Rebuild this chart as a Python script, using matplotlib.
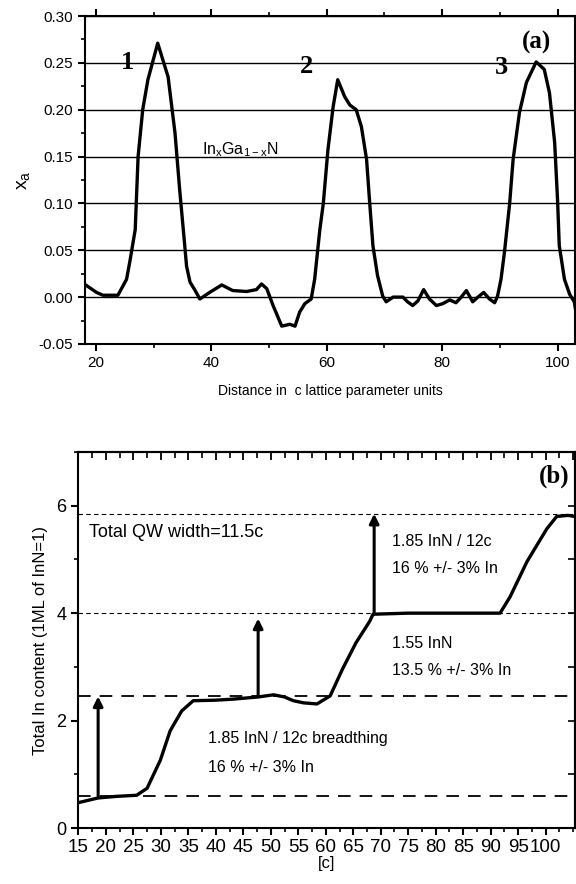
import numpy as np
import matplotlib
matplotlib.use("Agg")
import matplotlib.pyplot as plt
from matplotlib.ticker import MultipleLocator, FixedLocator, NullFormatter

plt.rcParams['font.family'] = ['Liberation Sans', 'DejaVu Sans']
plt.rcParams['mathtext.fontset'] = 'custom'
plt.rcParams['mathtext.rm'] = 'Liberation Sans'

# ---- panel (a): In fraction profile ----
dist_a = [18.2, 20.1, 21.2, 23.8, 25.3, 25.9, 26.8, 27.3, 28.1, 29.0, 30.7, 32.5, 33.7,
          34.5, 35.4, 35.7, 36.3, 37.1, 38.0, 39.7, 41.8, 43.7, 46.1, 47.8, 48.7, 49.6,
          50.7, 52.2, 53.6, 54.5, 55.3, 56.2, 57.3, 57.9, 58.8, 59.4, 60.2, 61.1, 61.9,
          63.1, 64.0, 65.1, 66.0, 66.9, 67.4, 68.0, 68.8, 69.7, 70.3, 71.5, 73.2, 74.0,
          74.9, 75.8, 76.8, 77.8, 79.0, 80.1, 81.3, 82.4, 83.3, 84.2, 85.3, 86.2, 87.2,
          88.2, 89.1, 89.6, 90.2, 90.8, 91.7, 92.3, 93.4, 94.6, 96.3, 97.7, 98.6, 99.5,
          100.0, 100.3, 101.2, 102.1, 102.9, 103.3]
xa = [0.013, 0.005, 0.002, 0.002, 0.019, 0.039, 0.072, 0.15, 0.20, 0.232, 0.271, 0.235, 0.175,
      0.115, 0.054, 0.033, 0.016, 0.008, -0.002, 0.005, 0.013, 0.007, 0.006, 0.008, 0.014, 0.009,
      -0.009, -0.031, -0.029, -0.031, -0.016, -0.007, -0.002, 0.019, 0.072, 0.10, 0.157, 0.203, 0.232,
      0.214, 0.205, 0.20, 0.182, 0.147, 0.104, 0.055, 0.023, 0.001, -0.005, 0.0, 0.0, -0.005,
      -0.009, -0.004, 0.008, -0.002, -0.009, -0.007, -0.003, -0.006, 0.0, 0.007, -0.005, 0.0, 0.005,
      -0.002, -0.006, 0.001, 0.019, 0.048, 0.10, 0.147, 0.197, 0.229, 0.251, 0.243, 0.218, 0.165,
      0.104, 0.055, 0.019, 0.003, -0.005, -0.02]
peak_labels = ['1', '2', '3']
peak_pos = [(25.4, 0.25), (56.5, 0.246), (90.3, 0.245)]

# ---- panel (b): cumulative In content ----
dist_b = [15.3, 18.6, 22.0, 25.6, 27.5, 29.9, 31.7, 33.8, 35.9, 40.0, 43.2, 47.7, 50.5,
          52.5, 54.1, 56.0, 58.4, 60.8, 63.0, 65.5, 68.0, 68.6, 75.0, 85.0, 91.7, 93.5,
          96.6, 100.2, 102.0, 104.0, 105.3]
content = [0.48, 0.56, 0.59, 0.61, 0.74, 1.26, 1.81, 2.18, 2.37, 2.38, 2.40, 2.44, 2.48,
           2.44, 2.37, 2.33, 2.31, 2.46, 2.95, 3.45, 3.85, 3.98, 4.0, 4.0, 4.0, 4.3,
           4.96, 5.57, 5.8, 5.82, 5.8]
fine_levels = [5.85, 4.0]
coarse_levels = [2.45, 0.6]
arrows = [(18.6, 0.6, 2.45), (47.7, 2.45, 3.9), (68.8, 4.0, 5.85)]
xticks_b = list(range(15, 101, 5))

fig = plt.figure(figsize=(5.76, 8.84), dpi=100)

# ===== (a) =====
ax = fig.add_axes([0.1476, 0.6109, 0.8504, 0.371])
ax.plot(dist_a, xa, color='black', lw=2.4, solid_joinstyle='round')
ax.set_xlim(18.1, 103.0)
ax.set_ylim(-0.05, 0.30)
ax.yaxis.set_major_locator(MultipleLocator(0.05))
ax.yaxis.set_minor_locator(MultipleLocator(0.025))
ax.xaxis.set_major_locator(MultipleLocator(20))
ax.xaxis.set_minor_locator(MultipleLocator(10))
ax.grid(axis='y', which='major', color='black', lw=1.0)
ax.tick_params(axis='both', which='major', direction='out', length=5, width=1.5, labelsize=11)
ax.tick_params(axis='both', which='minor', direction='out', length=3, width=1.2)
ax.tick_params(top=True, which='both', direction='out')
ax.yaxis.set_major_formatter(plt.FuncFormatter(lambda v, p: f"{v:.2f}"))
for s in ax.spines.values():
    s.set_linewidth(1.5)
ax.set_ylabel(r'x$_\mathregular{a}$', fontsize=14, labelpad=4)
ax.set_xlabel('Distance in  c lattice parameter units', fontsize=10, labelpad=10)
for lab, (px, py) in zip(peak_labels, peak_pos):
    ax.text(px, py, lab, fontsize=19, fontweight='bold', family='Liberation Serif',
            ha='center', va='center')
ax.text(96.4, 0.272, '(a)', fontsize=18, fontweight='bold', family='Liberation Serif',
        ha='center', va='center')
ax.text(45.0, 0.157, r'In$_\mathregular{x}$Ga$_\mathregular{1-x}$N', fontsize=11.5,
        ha='center', va='center')

# ===== (b) =====
bx = fig.add_axes([0.136, 0.0633, 0.862, 0.4254])
bx.plot(dist_b, content, color='black', lw=2.4, solid_joinstyle='round')
for lv in fine_levels:
    bx.axhline(lv, color='black', lw=0.8, ls=(0, (4, 3)))
for lv in coarse_levels:
    bx.axhline(lv, color='black', lw=1.3, ls=(0, (7, 5)))
for ax_x, y0, y1 in arrows:
    bx.annotate('', xy=(ax_x, y1), xytext=(ax_x, y0),
                arrowprops=dict(arrowstyle='-|>', color='black', lw=2.2,
                                mutation_scale=14, shrinkA=0, shrinkB=0))
bx.set_xlim(15, 105.3)
bx.set_ylim(0, 7)
bx.xaxis.set_major_locator(FixedLocator(xticks_b))
bx.xaxis.set_minor_locator(MultipleLocator(2.5))
bx.yaxis.set_major_locator(MultipleLocator(2))
bx.yaxis.set_minor_locator(MultipleLocator(1))
bx.tick_params(axis='x', which='major', direction='out', length=5, width=1.5, labelsize=13.5, pad=3)
bx.tick_params(axis='y', which='major', direction='out', length=5, width=1.5, labelsize=13)
bx.tick_params(which='minor', direction='out', length=3, width=1.2)
for s in bx.spines.values():
    s.set_linewidth(1.5)

# inward ticks on the top and right frame
top = bx.secondary_xaxis('top')
top.xaxis.set_major_locator(MultipleLocator(5))
top.xaxis.set_minor_locator(MultipleLocator(2.5))
top.xaxis.set_major_formatter(NullFormatter())
top.tick_params(which='major', direction='in', length=6, width=1.3)
top.tick_params(which='minor', direction='in', length=4, width=1.2)
top.spines['top'].set_linewidth(1.5)
right = bx.secondary_yaxis('right')
right.yaxis.set_major_locator(MultipleLocator(1))
right.yaxis.set_major_formatter(NullFormatter())
right.tick_params(which='major', direction='in', length=5, width=1.2)
right.spines['right'].set_linewidth(1.5)

bx.set_ylabel('Total In content (1ML of InN=1)', fontsize=12, labelpad=6)
bx.set_xlabel('[c]', fontsize=12, labelpad=0)
bx.text(17.0, 5.5, 'Total QW width=11.5c', fontsize=13, ha='left', va='center')
bx.text(72.0, 5.33, '1.85 InN / 12c', fontsize=11.5, ha='left', va='center')
bx.text(72.0, 4.83, '16 % +/- 3% In', fontsize=11.5, ha='left', va='center')
bx.text(72.0, 3.43, '1.55 InN', fontsize=11.5, ha='left', va='center')
bx.text(72.0, 2.93, '13.5 % +/- 3% In', fontsize=11.5, ha='left', va='center')
bx.text(38.6, 1.67, '1.85 InN / 12c breadthing', fontsize=11.5, ha='left', va='center')
bx.text(38.6, 1.13, '16 % +/- 3% In', fontsize=11.5, ha='left', va='center')
bx.text(101.5, 6.55, '(b)', fontsize=18, fontweight='bold', family='Liberation Serif',
        ha='center', va='center')

fig.savefig('out.png', dpi=100)
